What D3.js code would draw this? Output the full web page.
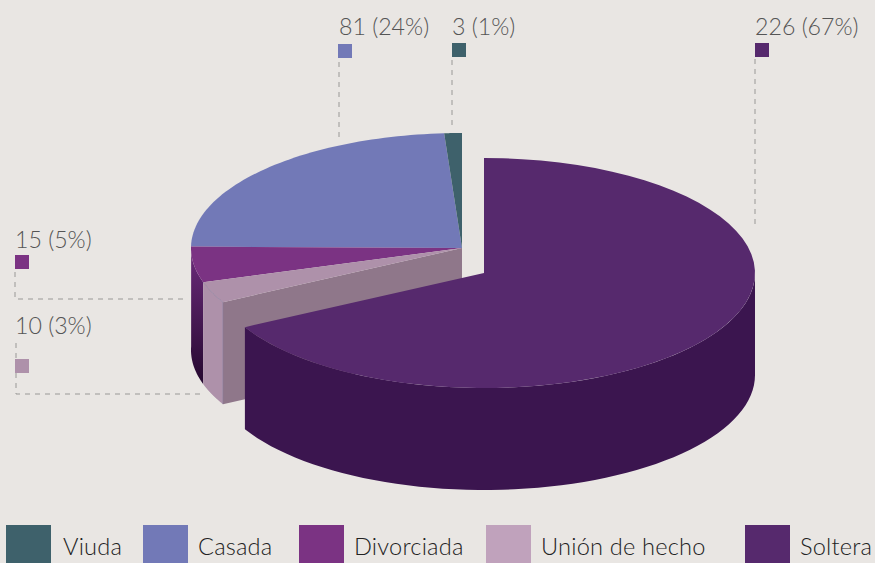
<!DOCTYPE html>
<html><head><meta charset="utf-8">
<script src="https://cdnjs.cloudflare.com/ajax/libs/d3/7.8.5/d3.min.js"></script>
<style>html,body{margin:0;padding:0;background:#e9e6e3;overflow:hidden}svg{display:block}</style>
</head><body><svg id="c" width="875" height="563"></svg>
<script>
const categories=["Soltera","Unión de hecho","Divorciada","Casada","Viuda"];
const values=[226,10,15,81,3];
const percents=[67,3,5,24,1];
const sliceShares=[67.2,3,5,23.75,1.05];
const topColors=["#56296d","#ae91aa","#7b3383","#7279b7","#3e616b"];
const wallColors=["#3b154f","#ae91aa","#5a2470","#5f6099","#32525b"];
const legendOrder=["Viuda","Casada","Divorciada","Unión de hecho","Soltera"];
const legendColors=["#3e616b","#7279b7","#7b3383","#c0a2bc","#56296d"];
const legendBoxX=[6,143,299,486,745];
const legendTextX=[63,198,354,541,800];
const labelText={Soltera:[755,35,755,43],Viuda:[452,35,452,43],Casada:[339,35,338,44],Divorciada:[15,248,15,255],"Unión de hecho":[15,334,15,359]};
const connectors={
  Soltera:[[755,59],[755,224]],
  Viuda:[[452,60],[452,127]],
  Casada:[[339,62],[339,137]],
  Divorciada:[[15,272],[15,299],[185,299]],
  "Unión de hecho":[[16,343],[16,394],[203,394]]
};
const svg=d3.select("#c");
const rx=271,ry=115,depth=102;
const mainC=[462,248],expC=[484,273];
const arcs=d3.pie().sort(null).value(d=>d)(sliceShares);
const line=d3.line();
const pt=(c,a,dy=0)=>[c[0]+rx*Math.sin(a),c[1]-ry*Math.cos(a)+dy];
const arcPts=(c,a0,a1,dy=0)=>d3.range(0,61).map(i=>pt(c,a0+(a1-a0)*i/60,dy));
const defs=svg.append("defs");
const g=defs.append("linearGradient").attr("id","wall").attr("gradientUnits","userSpaceOnUse").attr("x1",0).attr("x2",0).attr("y1",248).attr("y2",384);
g.append("stop").attr("offset",0).attr("stop-color","#6d2c7c");
g.append("stop").attr("offset",1).attr("stop-color","#25082f");

const [sol,uni,div,cas,viu]=arcs;
const root=svg.append("g");
const wallD=arcPts(mainC,div.startAngle,cas.startAngle+0.02);
root.append("path").attr("d",line(wallD.concat(wallD.map(p=>[p[0],p[1]+depth]).reverse()))+"Z").attr("fill","url(#wall)");
const wallU=arcPts(mainC,uni.startAngle,uni.endAngle);
root.append("path").attr("d",line(wallU.concat(wallU.map(p=>[p[0],p[1]+depth]).reverse()))+"Z").attr("fill",wallColors[1]);
const e=pt(mainC,uni.startAngle);
root.append("path").attr("d",line([mainC,e,[e[0],e[1]+depth],[mainC[0],mainC[1]+depth]])+"Z").attr("fill","#8f778a");
[cas,div,uni,viu].forEach(d=>{
  root.append("path").attr("d",line([mainC].concat(arcPts(mainC,d.startAngle,d.endAngle)))+"Z").attr("fill",topColors[d.index]);
});
root.append("path").attr("d",line(arcPts(mainC,uni.startAngle,uni.endAngle))).attr("fill","none").attr("stroke","#857a9c").attr("stroke-width",0.6);
root.append("path").attr("d",line([e,[e[0],e[1]+depth]])).attr("fill","none").attr("stroke","#857a9c").attr("stroke-width",0.6);
const wallS=arcPts(expC,Math.PI/2,sol.endAngle);
root.append("path").attr("d",line(wallS.concat(wallS.map(p=>[p[0],p[1]+depth]).reverse()))+"Z").attr("fill",wallColors[0]);
root.append("path").attr("d",line([expC].concat(arcPts(expC,sol.startAngle,sol.endAngle)))+"Z").attr("fill",topColors[0]);

categories.forEach((c,i)=>{
  root.append("path").attr("d",line(connectors[c])).attr("fill","none").attr("stroke","#999896").attr("stroke-width",1).attr("stroke-dasharray","5,5");
  const l=labelText[c];
  root.append("rect").attr("x",l[2]).attr("y",l[3]).attr("width",14).attr("height",14).attr("fill",topColors[i]);
  root.append("text").attr("x",l[0]).attr("y",l[1]).attr("font-family","Lato").attr("font-weight",300).attr("font-size",23.2).attr("fill","#555").text(`${values[i]} (${percents[i]}%)`);
});
legendOrder.forEach((c,i)=>{
  root.append("rect").attr("x",legendBoxX[i]).attr("y",525).attr("width",45).attr("height",38).attr("fill",legendColors[i]);
  root.append("text").attr("x",legendTextX[i]).attr("y",555).attr("font-family","Lato").attr("font-weight",300).attr("font-size",23.6).attr("letter-spacing",0.2).attr("fill","#222").text(c);
});
</script></body></html>
